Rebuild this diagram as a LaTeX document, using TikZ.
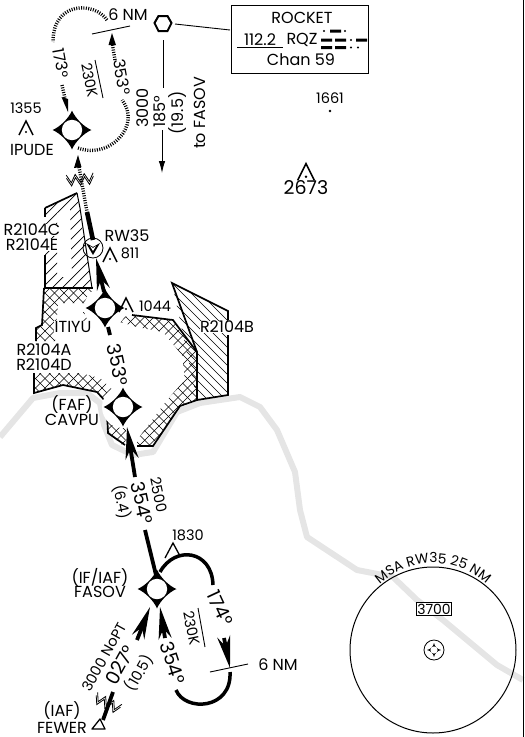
\documentclass[tikz,border=0pt]{standalone}
\usepackage{fontspec}
\setmainfont{Poppins}
\usetikzlibrary{arrows.meta,decorations.text,calc}
\newcommand{\fs}[1]{\fontsize{#1}{#1}\selectfont}
\tikzset{
 lbl/.style={inner sep=0.5pt,font=\fs{16},align=center},
 lblw/.style={lbl,fill=white},
 sml/.style={lbl,font=\fs{14.5}},
 big/.style={lbl,font=\fs{19}},
 bord/.style={line width=1.7pt,line join=miter},
 thin line/.style={line width=0.9pt},
 route/.style={line width=3.8pt,line cap=butt},
 hold/.style={line width=3.4pt,dash pattern=on 1pt off 1.4pt},
 barb/.style={-{Stealth[length=32pt,width=13pt,inset=10pt]}},
 smalltip/.style={-{Latex[length=12pt,width=6.5pt]}},
 fixstar/.pic={
  \fill[white] (0,0) circle (21);
  \fill[black] (0,-19.5) .. controls (3,-12) and (12,-3) .. (19.5,0)
     .. controls (12,3) and (3,12) .. (0,19.5)
     .. controls (-3,12) and (-12,3) .. (-19.5,0)
     .. controls (-12,-3) and (-3,-12) .. (0,-19.5) -- cycle;
  \fill[white] (0,0) circle (10.2);
 },
 obst/.pic={
  \draw[line width=1.5pt,line join=miter] (-7,7) -- (0,-7) -- (7,7);
  \fill (0,4) circle (1.2);
 },
 zig/.pic={
  \foreach \d in {0,3.2}{
  \draw[line width=0.8pt] (-13.5,-4+\d) -- (-9,4+\d) -- (-4.5,-4+\d) -- (0,4+\d) -- (4.5,-4+\d) -- (9,4+\d) -- (13.5,-4+\d);}
 },
}
\begin{document}
\begin{tikzpicture}[x=1pt,y=-1pt]
\useasboundingbox (0,0) rectangle (525,737);
% grey coast
\draw[line width=6pt,color=black!10,line join=round]
 (0,437) -- (33,398) -- (60,393) -- (87,393) -- (100,403) -- (104,425) -- (112,445) -- (133,455) -- (153,452) -- (177,412) -- (200,403) -- (240,397) -- (260,407) -- (277,430) -- (295,472) -- (300,510) -- (307,537) -- (357,570) -- (393,577) -- (417,600) -- (443,620) -- (467,640) -- (497,665) -- (523,680);
\draw[line width=1.2pt] (523.5,0) -- (523.5,737);
% hatching
\begin{scope}
 \clip (45,208) -- (77,193) -- (92,288) -- (45,288) -- (45,208) -- (57,213) -- (57,277) -- (72,277) -- (70,207) -- (57,213) -- cycle;
 \foreach \k in {60,70,...,300}{\draw[line width=0.7pt] (\k,150) -- (\k-160,310);}
\end{scope}
\begin{scope}
 \clip (172,283) -- (228,311) -- (228,395) -- (197,400) -- cycle;
 \foreach \k in {40,49,...,200}{\draw[line width=0.7pt] (\k,250) -- (\k+160,410);}
\end{scope}
\newcommand{\xhatch}{%
 \foreach \k in {100,109.5,...,500}{\draw[line width=0.65pt] (\k,200) -- (\k-280,480);}
 \foreach \k in {-200,-190.5,...,150}{\draw[line width=0.65pt] (\k,200) -- (\k+280,480);}}
\begin{scope}
 \clip (44,288) -- (93,288) -- (97,305) -- (82,303) -- (58,303) -- (55,341) -- (36,341) -- (36,328) -- (42,325) -- cycle;
 \xhatch
\end{scope}
\begin{scope}
 \clip (83,312) -- (97,312) -- (97,322) -- (83,322) -- cycle;
 \xhatch
\end{scope}
\begin{scope}
 \clip (34,373) -- (34,393) -- (63,385) -- (97,392) -- (107,403) -- (118,395) -- (100,378) -- (80,373) -- cycle;
 \xhatch
\end{scope}
\begin{scope}
 \clip (105,405) -- (108,433) -- (125,447) -- (127,420) -- (118,405) -- cycle;
 \xhatch
\end{scope}
\begin{scope}
 \clip (137,446) -- (153,446) -- (180,406) -- (197,400) -- (197,352) -- (173,320) -- (132,315) -- (113,320) -- (137,327) -- (163,332) -- (182,355) -- (185,380) -- (167,400) -- (150,423) -- (137,440) -- cycle;
 \xhatch
\end{scope}
% borders
\draw[bord] (45,208) -- (77,193);
\draw[line width=1pt] (77,193) -- (80,208) -- (92,288);
\draw[bord] (45,208) -- (45,217);
\draw[bord] (45,255) -- (45,288);
\draw[bord] (44,288) -- (93,288);
\draw[bord] (44,288) -- (42,325) -- (36,328) -- (36,341);
\draw[bord] (34,373) -- (34,393) -- (63,385) -- (97,392) -- (107,403);
\draw[bord] (107,412) -- (108,433) -- (125,445);
\draw[bord] (137,446) -- (153,446) -- (180,406) -- (197,400) -- (197,352) -- (173,320) -- (132,315);
\draw[bord] (197,400) -- (228,395) -- (228,335);
\draw[bord] (228,320) -- (228,311) -- (172,283) -- (197,352);
% fixes
\coordinate (ipude) at (72,130);
\coordinate (itiyu) at (105,308);
\coordinate (cavpu) at (123,407);
\coordinate (fasov) at (157,589);
\coordinate (rw) at (93,248);
\coordinate (msa) at (434,650);
\coordinate (hex) at (163,23);
\pic at (ipude) {fixstar};
\pic at (itiyu) {fixstar};
\pic at (cavpu) {fixstar};
\pic at (fasov) {fixstar};
% hold at IPUDE
\coordinate (h1) at (107,20);
\coordinate (h2) at (53,42);
\coordinate (h3) at (62,85);
\coordinate (h4) at (68,112);
\coordinate (h5) at (78,148);
\coordinate (h6) at (122,100);
\coordinate (h7) at (115,60);
\coordinate (h8) at (112,33);
\draw[hold] (h1) .. controls (95,2) and (53,0) .. (h2);
\draw[hold] (h3) -- ($(h3)!0.7!(h4)$);
\draw[hold] (h5) .. controls (110,160) and (142,125) .. (h6);
\draw[hold] (h7) -- (112.5,45);
\fill (h4) -- (61.5,97) -- (68,99) -- cycle;
\fill (h8) -- (108.5,45) -- (116,45) -- cycle;
\fill (78,155) -- (74,168) -- (81.5,167) -- cycle;
\draw[hold] (79,167) -- (87,212);
\draw[line width=4.6pt] (87,212) -- (93,240);
\draw[thin line] (92,34) -- (130,26);
% navaid
\draw[line width=2pt,fill=white] (154.5,23) -- (158.5,16) -- (167.5,16) -- (171.5,23) -- (167.5,31) -- (158.5,31) -- cycle;
\draw[line width=0.9pt] (175,24) -- (230,30);
\draw[thin line] (163,40) -- (163,88);
\draw[thin line,smalltip] (162,130) -- (162,173);
% ROCKET box
\node[draw,line width=1pt,minimum width=137pt,minimum height=68pt,anchor=north west,inner sep=0pt] (rocket) at (231,4.5) {};
\node[lbl] (rk1) at (302,18) {ROCKET};
\node[lbl] (rk2) at (260,40) {112.2};
\node[lbl] (rk3) at (302,40) {RQZ};
\node[lbl] (rk4) at (301,60) {Chan 59};
\draw[line width=1.5pt] (237,47.5) -- (283,47.5);
\fill (324,31) circle (1.2) (330,29.5) rectangle (341,32.5) (345,31) circle (1.2);
\fill (321,38.5) rectangle (332,41.5) (335,38.5) rectangle (346,41.5) (351,40) circle (1.2) (356,38.5) rectangle (367,41.5);
\fill (321,46) rectangle (332,49) (335,46) rectangle (346,49) (351,47.5) circle (1.2) (358,47.5) circle (1.2);
% RW35 symbol
\draw[line width=0.8pt] (rw) circle (10);
\fill (86,243) -- (93,247) -- (100,243) -- (93,255) -- cycle;
\fill[white] (90,246) -- (93,248) -- (96,246) -- (93,251) -- cycle;
% main route
\draw[route,barb] (104,292) -- (96,258);
\draw[route] (108,327) -- (110,335);
\draw[route,barb] (135,477) -- (127,427);
\draw[route] (145,530) -- (156,575);
\draw[route,barb] (137,640) -- (150,607);
\draw[route,barb] (165,638) -- (160,607);
\draw[route] (113,692) -- (103,720);
% procedure turn
\draw[line width=3.5pt] (160,572) .. controls (175,545) and (212,550) .. (213,585);
\draw[line width=3.5pt] (176,690) .. controls (185,712) and (232,710) .. (230,672);
\draw[route,barb] (224,638) -- (230,668);
\draw[thin line] (210,672) -- (248,664);
% zigzags
\pic[rotate=5] at (80,178) {zig};
\pic[rotate=-26] at (108,702) {zig};
% obstacles
\pic at (26,128) {obst};
\pic at (110,255) {obst};
\pic at (126,305) {obst};
\pic[scale=1.2] at (306,172) {obst};
\draw[line width=1.3pt,line join=miter] (165,558) -- (173,543) -- (180,556);
\draw[line width=1.3pt,line join=round] (100,719) -- (92,729) -- (105,729) -- cycle;
\fill (330,111) circle (1.4);
% labels
\node[lbl] (nm1) at (128,15) {6 NM};
\node[sml] (l1355) at (26,108) {1355};
\node[lbl] (lip) at (32,150) {IPUDE};
\node[lbl,rotate=-80] (l173) at (61,63) {173°};
\node[sml,rotate=-78] (k1) at (90,80) {230K};
\draw[thin line] (95,60) -- (103,98);
\node[lbl,rotate=-80] (l353) at (122,77) {353°};
\node[lbl,rotate=90] (a1) at (143,108) {3000};
\node[lbl,rotate=90] (a2) at (160,112) {185°};
\node[lbl,rotate=90] (a3) at (178,113) {(19.5)};
\node[lbl,rotate=90] (a4) at (200,113) {to FASOV};
\node[sml] (l1661) at (330,98) {1661};
\node[big] (l2673) at (306,188) {2673};
\node[lblw] (rc) at (32,230) {R2104C};
\node[lblw] (re) at (32,245) {R2104E};
\node[lbl] (lrw) at (127,236) {RW35};
\node[sml] (l811) at (130,253) {811};
\node[lblw] (lit) at (73,327) {ITIYU};
\node[sml] (l1044) at (155,306) {1044};
\node[lblw] (lb) at (227,327) {R2104B};
\node[lblw] (la) at (44,350) {R2104A};
\node[lblw] (ld) at (44,365) {R2104D};
\node[big,rotate=-78] (b353) at (118,365) {353°};
\node[lbl] (lfaf) at (72,405) {(FAF)};
\node[lbl] (lcav) at (72,420) {CAVPU};
\node[sml,rotate=-78] (l2500) at (159,495) {2500};
\node[big,rotate=-78] (b354) at (142,503) {354°};
\node[sml,rotate=-78] (l64) at (122,502) {(6.4)};
\node[sml] (l1830) at (188,535) {1830};
\node[lbl] (lif) at (100,577) {(IF/IAF)};
\node[lbl] (lfa) at (100,592) {FASOV};
\node[big,rotate=-65] (b174) at (220,608) {174°};
\node[sml,rotate=-78] (k2) at (192,628) {230K};
\draw[thin line] (198,608) -- (205,647);
\node[big,rotate=-72] (c354) at (173,663) {354°};
\node[lbl] (nm2) at (278,665) {6 NM};
\node[big,rotate=61] (c027) at (120,665) {027°};
\node[sml,rotate=61] (nopt) at (104,657) {3000 NoPT};
\node[sml,rotate=60] (l105) at (139,673) {(10.5)};
\node[lbl] (liaf) at (62,711) {(IAF)};
\node[lbl] (lfew) at (62,727.5) {FEWER};
% MSA
\coordinate (msac) at (433,650);
\draw[line width=1pt] (msac) circle (83);
\node[draw,line width=0.8pt,inner sep=1pt,fill=white,font=\fs{14}] (msabox) at (434,609) {3700};
\draw[line width=0.8pt] (msa) circle (10);
\fill (434,643) .. controls (435,647) and (437,649) .. (441,650) .. controls (437,651) and (435,653) .. (434,657) .. controls (433,653) and (431,651) .. (427,650) .. controls (431,649) and (433,647) .. (434,643) -- cycle;
\fill[white] (msa) circle (3.6);
\path[decorate,decoration={text along path,text align=center,text={|\fs{13.8}|MSA RW35 25 NM}}]
  (356,617) .. controls (390,545) and (476,545) .. (510,617);
\end{tikzpicture}
\end{document}
